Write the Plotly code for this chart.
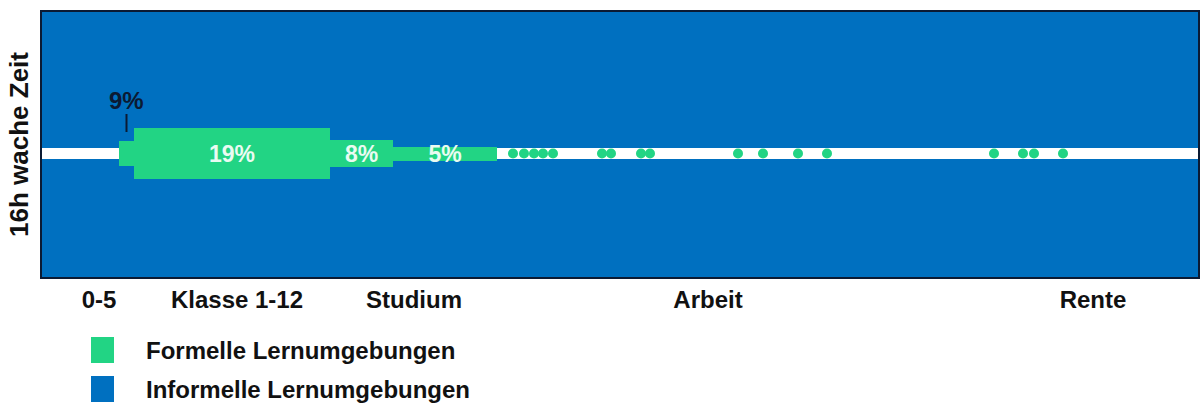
import plotly.graph_objects as go

# ---- data ----
phase_labels = ["0-5", "Klasse 1-12", "Studium", "Arbeit", "Rente"]
phase_pos = [57, 195, 372, 666, 1051]          # position along life-course axis

block_start = [77, 92, 288, 351]
block_end = [92, 288, 351, 455]
block_thickness = [25, 51, 27, 14]             # share of waking time (drawn thickness)
block_text = ["", "19%", "8%", "5%"]
small_label = "9%"

dot_pos = [471, 482, 492, 501, 511, 560, 569, 599, 608,
           696, 721, 756, 785, 952, 981, 992, 1021]

legend_items = ["Formelle Lernumgebungen", "Informelle Lernumgebungen"]
y_title = "16h wache Zeit"

# ---- style ----
BLUE = "#0070C0"
GREEN = "#22D484"
DARK = "#0B1A33"
FONT = "Liberation Sans, Arial, sans-serif"

W, H = 1201, 403
ML, MR, MT, MB = 42, 3, 12, 126
PW, PH = W - ML - MR, H - MT - MB
XMAX = PW
Y_LO, Y_HI = -123.5, 141.5


def px_x(px):
    return (px - ML) / PW


def px_y(py):
    return (H - MB - py) / PH


fig = go.Figure()

mid = [(s + e) / 2 for s, e in zip(block_start, block_end)]
width = [e - s for s, e in zip(block_start, block_end)]
base = [-t / 2 for t in block_thickness]

fig.add_trace(go.Bar(
    x=mid, y=block_thickness, base=base, width=width,
    marker=dict(color=GREEN, line=dict(width=0)),
    text=["<b>" + t + "</b>" if t else "" for t in block_text],
    textposition="inside", insidetextanchor="middle",
    textangle=0,
    textfont=dict(family=FONT, size=23, color="#EAFBF2"),
    constraintext="none",
    showlegend=False, hoverinfo="skip",
))

fig.add_trace(go.Scatter(
    x=dot_pos, y=[0] * len(dot_pos), mode="markers",
    marker=dict(color=GREEN, size=10, line=dict(width=0)),
    showlegend=False, hoverinfo="skip",
))

# white life-line
fig.add_shape(type="rect", xref="x", yref="y", x0=0, x1=XMAX, y0=-5.5, y1=5.5,
              fillcolor="white", line=dict(width=0), layer="below")

# 9% label with tick line
x9 = (block_start[0] + block_end[0]) / 2
fig.add_shape(type="line", xref="x", yref="y", x0=x9, x1=x9,
              y0=block_thickness[1] / 2 - 4, y1=block_thickness[1] / 2 + 14,
              line=dict(color=DARK, width=2))
fig.add_annotation(x=x9, y=block_thickness[1] / 2 + 28, xref="x", yref="y",
                   text="<b>" + small_label + "</b>", showarrow=False,
                   font=dict(family=FONT, size=24, color=DARK))

# legend (manual)
for i, (lab, col) in enumerate(zip(legend_items, [GREEN, BLUE])):
    top = 337 + i * 39
    fig.add_shape(type="rect", xref="paper", yref="paper",
                  x0=px_x(91), x1=px_x(114), y0=px_y(top), y1=px_y(top + 26),
                  fillcolor=col, line=dict(width=0))
    fig.add_annotation(x=px_x(144), y=px_y(top + 13), xref="paper", yref="paper",
                       xanchor="left", yanchor="middle",
                       text="<b>" + lab + "</b>", showarrow=False,
                       font=dict(family=FONT, size=24, color="#111"))

fig.update_layout(
    width=W, height=H,
    margin=dict(l=ML, r=MR, t=MT, b=MB, autoexpand=False),
    paper_bgcolor="white", plot_bgcolor=BLUE,
    showlegend=False,
    xaxis=dict(range=[0, XMAX], showgrid=False, zeroline=False,
               tickmode="array", tickvals=phase_pos,
               ticktext=["<b>" + t + "</b>" for t in phase_labels],
               tickfont=dict(family=FONT, size=24, color="#111"),
               ticks="", showline=True, mirror=True, linecolor=DARK, linewidth=2,
               fixedrange=True),
    yaxis=dict(range=[Y_LO, Y_HI], showgrid=False, zeroline=False,
               showticklabels=False, ticks="", showline=True, mirror=True,
               linecolor=DARK, linewidth=2, fixedrange=True,
               title=dict(text="<b>" + y_title + "</b>", standoff=4,
                          font=dict(family=FONT, size=26, color="#111"))),
    bargap=0,
)

fig.write_html("out.html")
